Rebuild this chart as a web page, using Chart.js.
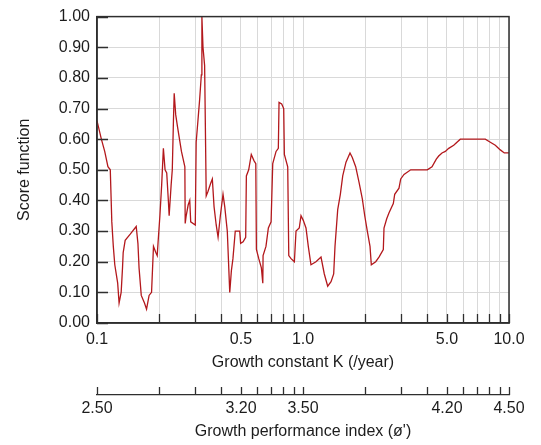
<!DOCTYPE html>
<html>
<head>
<meta charset="utf-8">
<script src="https://cdn.jsdelivr.net/npm/chart.js@4/dist/chart.umd.min.js"></script>
<style>
  html, body { margin: 0; padding: 0; background: #ffffff; }
  #wrap { width: 541px; height: 445px; }
</style>
</head>
<body>
<div id="wrap"><canvas id="c" width="541" height="445"></canvas></div>
<script>
// ---- data ----
const growthK = [0.1, 0.105, 0.109, 0.113, 0.116, 0.118, 0.120, 0.122, 0.126, 0.128,
  0.131, 0.133, 0.134, 0.137, 0.145, 0.155, 0.158, 0.160, 0.164, 0.170,
  0.174, 0.179, 0.184, 0.188, 0.193, 0.196, 0.198, 0.202, 0.206, 0.210,
  0.214, 0.218, 0.222, 0.224, 0.229, 0.232, 0.235, 0.237, 0.241, 0.246,
  0.257, 0.267, 0.268, 0.271, 0.277, 0.282, 0.285, 0.300, 0.303, 0.309,
  0.315, 0.321, 0.323, 0.327, 0.333, 0.339, 0.346, 0.356, 0.363, 0.370,
  0.379, 0.387, 0.397, 0.409, 0.417, 0.429, 0.441, 0.449, 0.457, 0.469,
  0.493, 0.498, 0.512, 0.527, 0.531, 0.545, 0.561, 0.578, 0.590, 0.594,
  0.610, 0.628, 0.638, 0.640, 0.661, 0.679, 0.700, 0.713, 0.740, 0.759,
  0.765, 0.788, 0.806, 0.812, 0.843, 0.853, 0.875, 0.908, 0.925, 0.959,
  0.978, 1.003, 1.034, 1.061, 1.093, 1.156, 1.223, 1.269, 1.318, 1.368,
  1.409, 1.430, 1.474, 1.518, 1.559, 1.617, 1.691, 1.735, 1.802, 1.870,
  1.941, 1.994, 2.052, 2.115, 2.146, 2.254, 2.338, 2.454, 2.473, 2.549,
  2.616, 2.744, 2.787, 2.924, 2.981, 3.093, 3.333, 4.013, 4.229, 4.437,
  4.557, 4.729, 4.907, 5.097, 5.390, 5.802, 7.674, 8.115, 8.581, 9.075,
  9.489, 10.0];

const scoreValues = [0.66, 0.60, 0.56, 0.51, 0.50, 0.33, 0.25, 0.19, 0.13, 0.065,
  0.10, 0.18, 0.23, 0.27, 0.29, 0.315, 0.26, 0.18, 0.09, 0.065,
  0.045, 0.09, 0.10, 0.25, 0.23, 0.22, 0.265, 0.35, 0.45, 0.57,
  0.50, 0.49, 0.40, 0.35, 0.45, 0.50, 0.66, 0.75, 0.68, 0.64,
  0.56, 0.51, 0.325, 0.35, 0.385, 0.40, 0.33, 0.32, 0.59, 0.66,
  0.73, 0.81, 1.0, 0.90, 0.84, 0.415, 0.43, 0.455, 0.47, 0.38,
  0.32, 0.28, 0.35, 0.42, 0.38, 0.30, 0.10, 0.17, 0.21, 0.30,
  0.30, 0.26, 0.265, 0.28, 0.48, 0.50, 0.55, 0.53, 0.52, 0.24,
  0.21, 0.18, 0.13, 0.22, 0.25, 0.31, 0.33, 0.52, 0.56, 0.57,
  0.72, 0.715, 0.70, 0.55, 0.51, 0.22, 0.21, 0.20, 0.30, 0.31,
  0.35, 0.335, 0.31, 0.25, 0.19, 0.20, 0.215, 0.16, 0.12, 0.135,
  0.16, 0.25, 0.37, 0.42, 0.48, 0.525, 0.555, 0.54, 0.51, 0.46,
  0.405, 0.35, 0.30, 0.25, 0.19, 0.20, 0.215, 0.24, 0.31, 0.34,
  0.36, 0.39, 0.42, 0.44, 0.47, 0.485, 0.50, 0.50, 0.51, 0.535,
  0.545, 0.555, 0.56, 0.57, 0.58, 0.60, 0.60, 0.59, 0.58, 0.565,
  0.555, 0.555];

// tick positions (K) for the logarithmic axes
const gridK = [0.1, 0.2, 0.3, 0.4, 0.5, 0.6, 0.7, 0.8, 0.9,
  1, 2, 3, 4, 5, 6, 7, 8, 9, 10];
// labelled K ticks and their texts
const kLabelValues = [0.1, 0.5, 1, 5, 10];
const kLabelTexts = ['0.1', '0.5', '1.0', '5.0', '10.0'];
// growth performance index labels at the same positions
const phiLabelTexts = ['2.50', '3.20', '3.50', '4.20', '4.50'];
// y ticks
const scoreTicks = [0, 0.1, 0.2, 0.3, 0.4, 0.5, 0.6, 0.7, 0.8, 0.9, 1.0];

const FONT = 'Liberation Sans, Arial, sans-serif';
const TXT = '#1c1c1c';
const GRID = '#d9d9d9';
const FRAME = '#2e2e2e';

function labelFor(texts) {
  return function (value) {
    const i = kLabelValues.findIndex(v => Math.abs(v - value) < 1e-9);
    return i >= 0 ? texts[i] : '';
  };
}
function setLogTicks(scale) {
  scale.ticks = gridK.map(v => ({ value: v }));
}

// inward tick marks + full frame
const framePlugin = {
  id: 'frame',
  afterDraw(chart) {
    const ctx = chart.ctx;
    const a = chart.chartArea;
    const xs = chart.scales.x, ys = chart.scales.y, x2 = chart.scales.x2;
    ctx.save();
    ctx.strokeStyle = FRAME;
    ctx.lineWidth = 1.5;
    ctx.strokeRect(a.left, a.top, a.right - a.left, a.bottom - a.top);
    ctx.lineWidth = 1.3;
    ctx.beginPath();
    gridK.forEach(v => {
      const px = Math.round(xs.getPixelForValue(v)) + 0.5;
      ctx.moveTo(px, a.bottom);
      ctx.lineTo(px, a.bottom - 9);
      const px2 = Math.round(x2.getPixelForValue(v)) + 0.5;
      ctx.moveTo(px2, x2.top);
      ctx.lineTo(px2, x2.top - 8);
    });
    scoreTicks.forEach(v => {
      const py = Math.round(ys.getPixelForValue(v)) + 0.5;
      ctx.moveTo(a.left, py);
      ctx.lineTo(a.left + 11, py);
    });
    ctx.stroke();
    ctx.restore();
  }
};

new Chart(document.getElementById('c'), {
  type: 'line',
  data: {
    datasets: [{
      label: 'Score function',
      data: growthK.map((k, i) => ({ x: k, y: scoreValues[i] })),
      borderColor: '#b3181c',
      borderWidth: 1.3,
      pointRadius: 0,
      tension: 0,
      fill: false
    }]
  },
  options: {
    responsive: false,
    animation: false,
    events: [],
    layout: { padding: { left: 0, right: 32, top: 14, bottom: 0 } },
    plugins: { legend: { display: false }, tooltip: { enabled: false } },
    scales: {
      x: {
        type: 'logarithmic',
        position: 'bottom',
        weight: 0,
        min: 0.1, max: 10,
        afterBuildTicks: setLogTicks,
        afterFit: s => { s.height = 72; },
        grid: { color: GRID, lineWidth: 1, drawTicks: false },
        border: { display: true, color: FRAME, width: 1.5 },
        ticks: {
          autoSkip: false, maxRotation: 0, padding: 7,
          color: TXT, font: { family: FONT, size: 16 },
          callback: labelFor(kLabelTexts)
        },
        title: {
          display: true, text: 'Growth constant K (/year)',
          color: TXT, font: { family: FONT, size: 16 },
          padding: { top: 0, bottom: 23 }
        }
      },
      x2: {
        type: 'logarithmic',
        position: 'bottom',
        weight: 1,
        min: 0.1, max: 10,
        afterBuildTicks: setLogTicks,
        afterFit: s => { s.height = 50; },
        grid: { display: true, drawOnChartArea: false, drawTicks: false },
        border: { display: true, color: FRAME, width: 1.3 },
        ticks: {
          autoSkip: false, maxRotation: 0, padding: 4,
          color: TXT, font: { family: FONT, size: 16 },
          callback: labelFor(phiLabelTexts)
        },
        title: {
          display: true, text: "Growth performance index (ø')",
          color: TXT, font: { family: FONT, size: 16 },
          padding: { top: 0, bottom: 4 }
        }
      },
      y: {
        type: 'linear',
        position: 'left',
        min: 0, max: 1,
        afterBuildTicks: s => { s.ticks = scoreTicks.map(v => ({ value: v })); },
        afterFit: s => { s.width = 97; },
        grid: { color: GRID, lineWidth: 1, drawTicks: false },
        border: { display: true, color: FRAME, width: 1.5 },
        ticks: {
          padding: 7, color: TXT, font: { family: FONT, size: 16 },
          callback: v => Number(v).toFixed(2)
        },
        title: {
          display: true, text: 'Score function',
          color: TXT, font: { family: FONT, size: 16 },
          padding: { top: 15, bottom: 0 }
        }
      }
    }
  },
  plugins: [framePlugin]
});
</script>
</body>
</html>
